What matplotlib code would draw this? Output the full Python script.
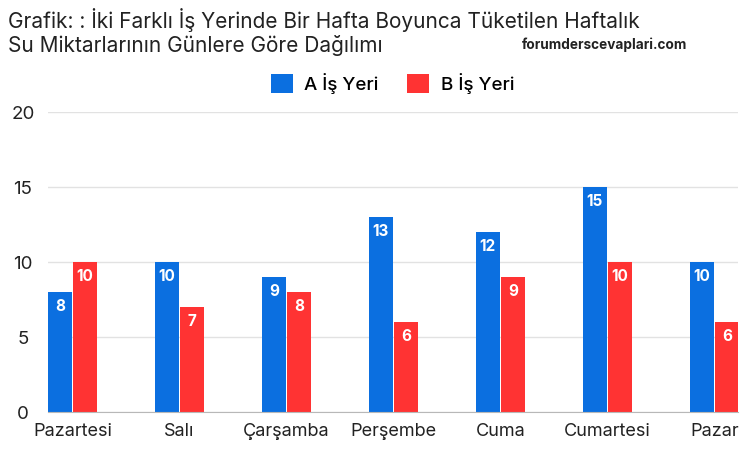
import matplotlib.pyplot as plt
import numpy as np

plt.rcParams['font.family'] = ['Inter', 'DejaVu Sans']

days = ['Pazartesi', 'Salı', 'Çarşamba', 'Perşembe', 'Cuma', 'Cumartesi', 'Pazar']
a_values = [8, 10, 9, 13, 12, 15, 10]
b_values = [10, 7, 8, 6, 9, 10, 6]
series_names = ['A İş Yeri', 'B İş Yeri']
y_ticks = [0, 5, 10, 15, 20]

blue = '#0b6fe0'
red = '#ff3333'

fig = plt.figure(figsize=(7.49, 4.49), dpi=100)
ax = fig.add_axes([0.064, 0.0824, 0.921, 0.668])

x = np.arange(len(days))
w = 0.225
bars_a = ax.bar(x - w / 2 - 0.005, a_values, w, color=blue, label=series_names[0], zorder=3)
bars_b = ax.bar(x + w / 2 + 0.005, b_values, w, color=red, label=series_names[1], zorder=3)

for bars in (bars_a, bars_b):
    for b in bars:
        h = b.get_height()
        ax.annotate(str(int(h)), xy=(b.get_x() + b.get_width() / 2, h), xytext=(0, -10.5),
                    textcoords='offset points', ha='center', va='center',
                    color='white', fontsize=11, fontweight='bold', zorder=4)

ax.set_xlim(-0.229, 6.22)
ax.set_ylim(0, 20)
ax.set_yticks(y_ticks)
ax.set_xticks(x)
ax.set_xticklabels(days, fontsize=13, color='#222222')
ax.tick_params(axis='x', length=0, pad=8)
ax.tick_params(axis='y', length=0, labelsize=13.5, labelcolor='#222222')
for lbl in ax.get_yticklabels():
    lbl.set_horizontalalignment('center')
ax.yaxis.set_tick_params(pad=18)

ax.grid(axis='y', color='#e2e2e2', linewidth=1, zorder=0)
for s in ['top', 'right', 'left']:
    ax.spines[s].set_visible(False)
ax.spines['bottom'].set_color('#b8b8b8')
ax.spines['bottom'].set_zorder(5)

fig.text(0.011, 0.955, 'Grafik: : İki Farklı İş Yerinde Bir Hafta Boyunca Tüketilen Haftalık',
         fontsize=15, color='#222222', va='center', ha='left')
fig.text(0.011, 0.899, 'Su Miktarlarının Günlere Göre Dağılımı',
         fontsize=15, color='#222222', va='center', ha='left')
fig.text(0.697, 0.9, 'forumderscevaplari.com', fontsize=9.8, fontweight='bold',
         color='#222222', va='center', ha='left')

fig.legend(loc='center', bbox_to_anchor=(0.524, 0.815), ncol=2, frameon=False,
           prop={'size': 13.5, 'weight': 'medium'}, handlelength=1.17, handleheight=1.2,
           columnspacing=1.55, handletextpad=0.6)

fig.savefig('out.png', dpi=100)
